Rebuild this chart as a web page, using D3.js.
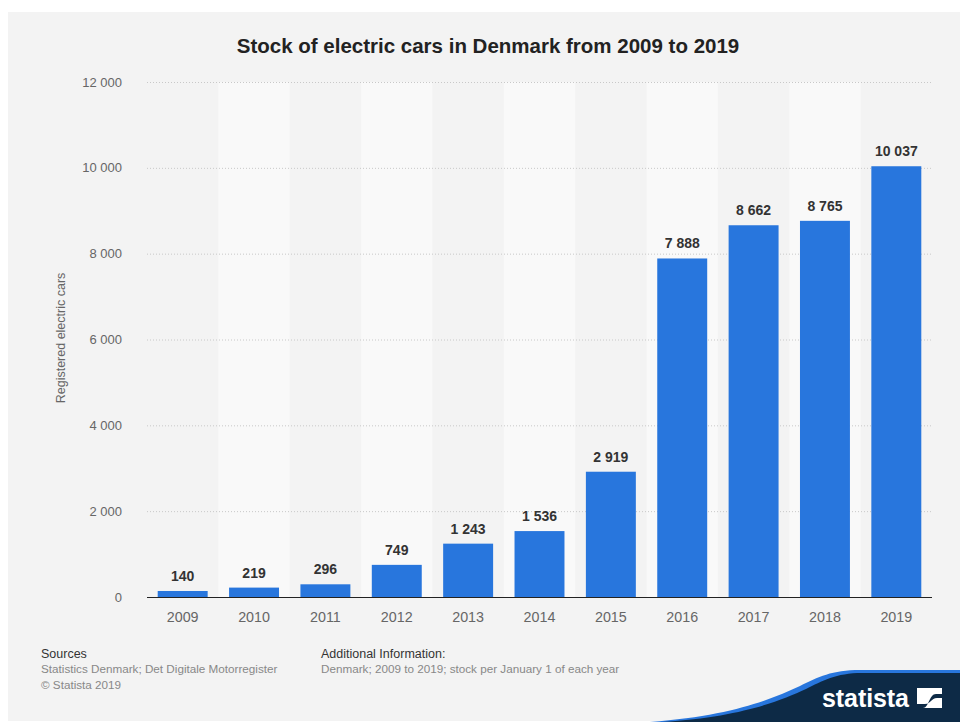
<!DOCTYPE html>
<html><head><meta charset="utf-8">
<script src="https://cdn.jsdelivr.net/npm/d3@7"></script>
<style>body{margin:0;background:#fff;}svg{display:block;font-family:"Liberation Sans",Arial,Helvetica,sans-serif;}</style>
</head><body>
<svg id="c" width="960" height="722"></svg>
<script>
const years = ["2009","2010","2011","2012","2013","2014","2015","2016","2017","2018","2019"];
const stock = [140,219,296,749,1243,1536,2919,7888,8662,8765,10037];
const yTicks = [0,2000,4000,6000,8000,10000,12000];

const svg = d3.select("#c");
const fmt = v => d3.format(",")(v).replace(/,/g, " ");

svg.append("rect").attr("x",8).attr("y",12).attr("width",952).attr("height",709).attr("fill","#f3f3f3");

const x = d3.scaleBand().domain(years).range([147,932]).paddingInner(0.3).paddingOuter(0.15);
const xb = d3.scaleBand().domain(years).range([147,932]);
const y = d3.scaleLinear().domain([0,12000]).range([597,82]);

// alternating stripes
svg.append("g").selectAll("rect").data(years.filter((d,i)=>i%2===1)).join("rect")
  .attr("x",d=>xb(d)).attr("y",y(12000)).attr("width",xb.bandwidth()).attr("height",y(0)-y(12000))
  .attr("fill","#f9f9f9");

// gridlines
svg.append("g").selectAll("line").data(yTicks.filter(d=>d>0)).join("line")
  .attr("x1",147).attr("x2",932).attr("y1",d=>y(d)+0.5).attr("y2",d=>y(d)+0.5)
  .attr("stroke","#c8c8c8").attr("stroke-width",1).attr("stroke-dasharray","1,2");

// y labels
svg.append("g").selectAll("text").data(yTicks).join("text")
  .attr("x",122).attr("y",d=>y(d)+4.5).attr("text-anchor","end")
  .attr("font-size",13).attr("fill","#666").text(fmt);

svg.append("text").attr("transform","translate(65,338) rotate(-90)").attr("text-anchor","middle")
  .attr("font-size",12.5).attr("fill","#666").text("Registered electric cars");

// bars
svg.append("g").selectAll("rect").data(years).join("rect")
  .attr("x",d=>x(d)).attr("width",x.bandwidth())
  .attr("y",(d,i)=>y(stock[i])).attr("height",(d,i)=>y(0)-y(stock[i]))
  .attr("fill","#2876dd");

// value labels
svg.append("g").selectAll("text").data(years).join("text")
  .attr("x",d=>x(d)+x.bandwidth()/2).attr("y",(d,i)=>y(stock[i])-10)
  .attr("text-anchor","middle").attr("font-size",14).attr("font-weight","bold").attr("fill","#333")
  .text((d,i)=>fmt(stock[i]));

// axis line
svg.append("line").attr("x1",147).attr("x2",932).attr("y1",y(0)+0.5).attr("y2",y(0)+0.5)
  .attr("stroke","#222").attr("stroke-width",1);

// x labels
svg.append("g").selectAll("text").data(years).join("text")
  .attr("x",d=>xb(d)+xb.bandwidth()/2).attr("y",622).attr("text-anchor","middle")
  .attr("font-size",14.3).attr("fill","#666").text(d=>d);

// title
svg.append("text").attr("x",488).attr("y",53).attr("text-anchor","middle")
  .attr("font-size",20.5).attr("font-weight","bold").attr("fill","#222")
  .text("Stock of electric cars in Denmark from 2009 to 2019");

// footer
const ft = [
  {x:41,y:658,t:"Sources",c:"#333",s:12.5},
  {x:41,y:673,t:"Statistics Denmark; Det Digitale Motorregister",c:"#888",s:11.7},
  {x:41,y:689,t:"© Statista 2019",c:"#888",s:11.7},
  {x:321,y:658,t:"Additional Information:",c:"#333",s:12.5},
  {x:321,y:673,t:"Denmark; 2009 to 2019; stock per January 1 of each year",c:"#888",s:11.7}
];
svg.append("g").selectAll("text").data(ft).join("text")
  .attr("x",d=>d.x).attr("y",d=>d.y).attr("font-size",d=>d.s).attr("fill",d=>d.c).text(d=>d.t);

// logo wave
svg.append("path").attr("d","M650,722 C730,716 770,700 800,686 C818,677 832,670 860,670 L960,670 L960,722 Z").attr("fill","#2876dd");
svg.append("path").attr("d","M662,722 C738,717 778,702 806,689 C822,681 836,673 862,673 L960,673 L960,722 Z").attr("fill","#0d2a46");
svg.append("text").attr("x",822).attr("y",707).attr("font-size",25).attr("font-weight","bold")
  .attr("fill","#fff").attr("textLength",87).text("statista");
const lg = svg.append("g").attr("transform","translate(917,688)");
lg.append("rect").attr("width",25).attr("height",20).attr("fill","#fff");
lg.append("path").attr("d","M0,20 L6,20 C12,20 12,6 19,6 L25,6 L25,10 L20,10 C14,10 14,16 8,16 L0,16 Z").attr("fill","#0d2a46");
</script>
</body></html>
